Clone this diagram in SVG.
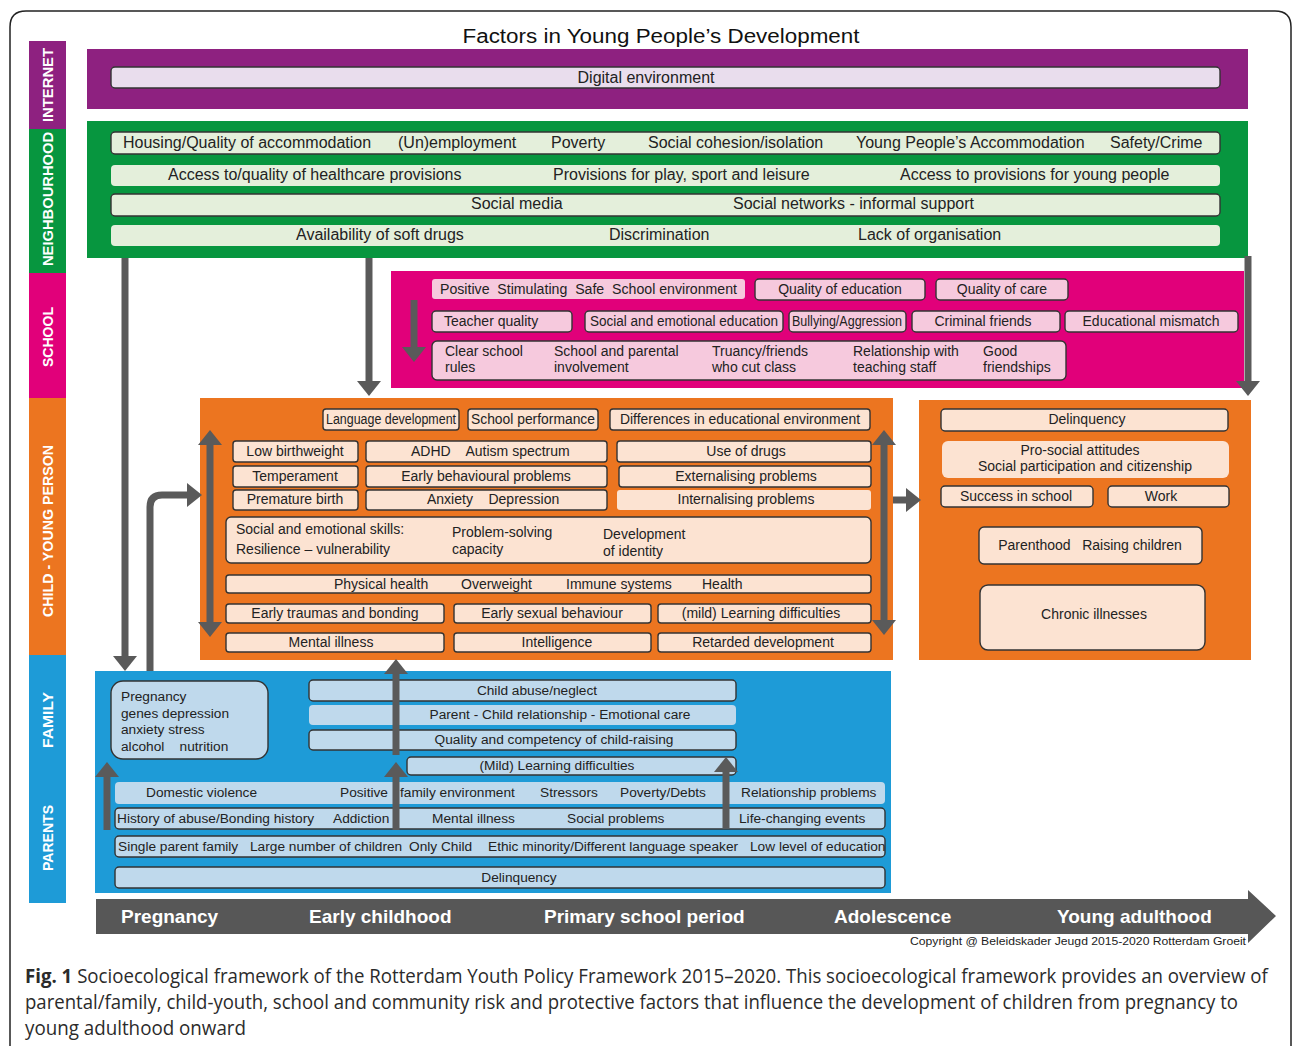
<svg xmlns="http://www.w3.org/2000/svg" width="1292" height="1046" viewBox="0 0 1292 1046">
<style>
.t{font-family:"Liberation Sans",Arial,sans-serif;font-size:14px;fill:#222}
.s{font-size:14px}
.f{font-size:13.7px}
.n{font-size:16px}
.m{text-anchor:middle}
.side{font-family:"Liberation Sans",Arial,sans-serif;font-weight:bold;font-size:14px;fill:#fff;text-anchor:middle}
.tl{font-family:"Liberation Sans",Arial,sans-serif;font-weight:bold;font-size:19px;fill:#fff}
.bd{stroke:#333;stroke-width:1.4}
.nb{fill:#E4EFDB}
.sb{fill:#F6C9DD}
.cb{fill:#FCE3D2}
.fb{fill:#BFD9EC}
.ar{stroke:#5A5A5A;stroke-width:7;fill:none}
.cap{font-family:"Open Sans","Noto Sans",sans-serif;font-size:19.5px;fill:#2b2b2b}
</style>
<defs>
<marker id="ah" markerUnits="userSpaceOnUse" markerWidth="15" markerHeight="24" viewBox="0 0 10 10" preserveAspectRatio="none" refX="0" refY="5" orient="auto-start-reverse">
<path d="M0,0 L10,5 L0,10 Z" fill="#5A5A5A"/>
</marker>
</defs>
<rect x="0" y="0" width="1292" height="1046" fill="#fff"/>
<path d="M10,1046 V27 Q10,11 26,11 H1275 Q1291,11 1291,27 V1046" fill="none" stroke="#222" stroke-width="1.5"/>

<g id="sidebar">
<rect x="29" y="41" width="37" height="88" fill="#8E2180"/>
<rect x="29" y="129" width="37" height="144" fill="#07963F"/>
<rect x="29" y="273" width="37" height="125" fill="#E1007A"/>
<rect x="29" y="398" width="37" height="257" fill="#EC7520"/>
<rect x="29" y="655" width="37" height="248" fill="#1E9BD7"/>
<text class="side" transform="translate(53,85) rotate(-90)" textLength="74" lengthAdjust="spacingAndGlyphs">INTERNET</text>
<text class="side" transform="translate(53,199) rotate(-90)" textLength="134" lengthAdjust="spacingAndGlyphs">NEIGHBOURHOOD</text>
<text class="side" transform="translate(53,337) rotate(-90)" textLength="60" lengthAdjust="spacingAndGlyphs">SCHOOL</text>
<text class="side" transform="translate(53,531) rotate(-90)" textLength="172" lengthAdjust="spacingAndGlyphs">CHILD - YOUNG PERSON</text>
<text class="side" transform="translate(53,720) rotate(-90)" textLength="56" lengthAdjust="spacingAndGlyphs">FAMILY</text>
<text class="side" transform="translate(53,838) rotate(-90)" textLength="66" lengthAdjust="spacingAndGlyphs">PARENTS</text>
</g>

<text id="title" x="661" y="43" class="t m" style="font-size:20px;fill:#111" textLength="397" lengthAdjust="spacingAndGlyphs">Factors in Young People’s Development</text>

<g id="internet">
<rect x="87" y="49" width="1161" height="60" fill="#8E2180"/>
<rect x="111" y="67" width="1109" height="21" rx="4" fill="#E9DDED" class="bd"/>
<text x="646" y="83" class="t m n">Digital environment</text>
</g>

<g id="neighbourhood">
<rect x="87" y="121" width="1161" height="137" fill="#07963F"/>
<rect x="111" y="132" width="1109" height="22" rx="4" class="nb bd"/>
<text y="148" class="t n"><tspan x="123">Housing/Quality of accommodation</tspan><tspan x="398">(Un)employment</tspan><tspan x="551">Poverty</tspan><tspan x="648">Social cohesion/isolation</tspan><tspan x="856">Young People’s Accommodation</tspan><tspan x="1110">Safety/Crime</tspan></text>
<rect x="111" y="165" width="1109" height="21" rx="4" class="nb"/>
<text y="180" class="t n"><tspan x="168">Access to/quality of healthcare provisions</tspan><tspan x="553">Provisions for play, sport and leisure</tspan><tspan x="900">Access to provisions for young people</tspan></text>
<rect x="111" y="194" width="1109" height="22" rx="4" class="nb bd"/>
<text y="209" class="t n"><tspan x="471">Social media</tspan><tspan x="733">Social networks - informal support</tspan></text>
<rect x="111" y="225" width="1109" height="21" rx="4" class="nb"/>
<text y="240" class="t n"><tspan x="296">Availability of soft drugs</tspan><tspan x="609">Discrimination</tspan><tspan x="858">Lack of organisation</tspan></text>
</g>

<g id="school">
<rect x="391" y="271" width="853" height="117" fill="#E1007A"/>
<rect x="432" y="279" width="313" height="20" rx="3" class="sb"/>
<text x="440" y="294" class="t s" xml:space="preserve" textLength="297" lengthAdjust="spacingAndGlyphs">Positive  Stimulating  Safe  School environment</text>
<rect x="755" y="279" width="170" height="21" rx="4" class="sb bd"/>
<text x="840" y="294" class="t s m">Quality of education</text>
<rect x="936" y="279" width="132" height="21" rx="4" class="sb bd"/>
<text x="1002" y="294" class="t s m">Quality of care</text>
<rect x="432" y="311" width="140" height="21" rx="4" class="sb bd"/>
<text x="444" y="326" class="t s">Teacher quality</text>
<rect x="585" y="311" width="198" height="21" rx="4" class="sb bd"/>
<text x="684" y="326" class="t s m" textLength="188" lengthAdjust="spacingAndGlyphs">Social and emotional education</text>
<rect x="789" y="311" width="117" height="21" rx="4" class="sb bd"/>
<text x="847" y="326" class="t s m" textLength="110" lengthAdjust="spacingAndGlyphs">Bullying/Aggression</text>
<rect x="912" y="311" width="148" height="21" rx="4" class="sb bd"/>
<text x="983" y="326" class="t s m">Criminal friends</text>
<rect x="1065" y="311" width="173" height="21" rx="4" class="sb bd"/>
<text x="1151" y="326" class="t s m">Educational mismatch</text>
<rect x="432" y="341" width="634" height="39" rx="5" class="sb bd"/>
<text class="t s"><tspan x="445" y="356">Clear school</tspan><tspan x="445" y="372">rules</tspan></text>
<text class="t s"><tspan x="554" y="356">School and parental</tspan><tspan x="554" y="372">involvement</tspan></text>
<text class="t s"><tspan x="712" y="356">Truancy/friends</tspan><tspan x="712" y="372">who cut class</tspan></text>
<text class="t s"><tspan x="853" y="356">Relationship with</tspan><tspan x="853" y="372">teaching staff</tspan></text>
<text class="t s"><tspan x="983" y="356">Good</tspan><tspan x="983" y="372">friendships</tspan></text>
</g>

<g id="child">
<rect x="200" y="398" width="693" height="262" fill="#EC7520"/>
<rect x="323" y="409" width="136" height="21" rx="3" class="cb bd"/>
<text x="391" y="424" class="t s m" textLength="130" lengthAdjust="spacingAndGlyphs">Language development</text>
<rect x="468" y="409" width="130" height="21" rx="3" class="cb bd"/>
<text x="533" y="424" class="t s m" textLength="124" lengthAdjust="spacingAndGlyphs">School performance</text>
<rect x="610" y="409" width="260" height="21" rx="3" class="cb bd"/>
<text x="740" y="424" class="t s m" textLength="240" lengthAdjust="spacingAndGlyphs">Differences in educational environment</text>
<rect x="233" y="441" width="125" height="21" rx="3" class="cb bd"/>
<text x="295" y="456" class="t s m">Low birthweight</text>
<rect x="366" y="441" width="241" height="21" rx="3" class="cb bd"/>
<text x="411" y="456" class="t s" xml:space="preserve">ADHD    Autism spectrum</text>
<rect x="617" y="441" width="254" height="21" rx="3" class="cb bd"/>
<text x="746" y="456" class="t s m">Use of drugs</text>
<rect x="233" y="466" width="125" height="21" rx="3" class="cb bd"/>
<text x="295" y="481" class="t s m">Temperament</text>
<rect x="366" y="466" width="241" height="21" rx="3" class="cb bd"/>
<text x="486" y="481" class="t s m">Early behavioural problems</text>
<rect x="619" y="466" width="252" height="21" rx="3" class="cb bd"/>
<text x="746" y="481" class="t s m">Externalising problems</text>
<rect x="233" y="490" width="125" height="20" rx="3" class="cb bd"/>
<text x="295" y="504" class="t s m">Premature birth</text>
<rect x="366" y="490" width="241" height="20" rx="3" class="cb bd"/>
<text x="427" y="504" class="t s" xml:space="preserve">Anxiety    Depression</text>
<rect x="617" y="490" width="254" height="20" rx="3" class="cb"/>
<text x="746" y="504" class="t s m">Internalising problems</text>
<rect x="226" y="517" width="645" height="46" rx="5" class="cb bd"/>
<text class="t s"><tspan x="236" y="534">Social and emotional skills:</tspan><tspan x="236" y="554">Resilience – vulnerability</tspan></text>
<text class="t s"><tspan x="452" y="537">Problem-solving</tspan><tspan x="452" y="554">capacity</tspan></text>
<text class="t s"><tspan x="603" y="539">Development</tspan><tspan x="603" y="556">of identity</tspan></text>
<rect x="226" y="575" width="645" height="18" rx="3" class="cb bd"/>
<text y="589" class="t s"><tspan x="334">Physical health</tspan><tspan x="461">Overweight</tspan><tspan x="566">Immune systems</tspan><tspan x="702">Health</tspan></text>
<rect x="226" y="604" width="218" height="19" rx="3" class="cb bd"/>
<text x="335" y="618" class="t s m">Early traumas and bonding</text>
<rect x="454" y="604" width="197" height="19" rx="3" class="cb bd"/>
<text x="552" y="618" class="t s m">Early sexual behaviour</text>
<rect x="658" y="604" width="213" height="19" rx="3" class="cb bd"/>
<text x="761" y="618" class="t s m">(mild) Learning difficulties</text>
<rect x="226" y="633" width="218" height="19" rx="3" class="cb bd"/>
<text x="331" y="647" class="t s m">Mental illness</text>
<rect x="454" y="633" width="197" height="19" rx="3" class="cb bd"/>
<text x="557" y="647" class="t s m">Intelligence</text>
<rect x="658" y="633" width="213" height="19" rx="3" class="cb bd"/>
<text x="763" y="647" class="t s m">Retarded development</text>
</g>

<g id="outcomes">
<rect x="919" y="400" width="332" height="260" fill="#EC7520"/>
<rect x="941" y="409" width="287" height="22" rx="4" class="cb bd"/>
<text x="1087" y="424" class="t s m">Delinquency</text>
<rect x="942" y="441" width="287" height="37" rx="6" class="cb"/>
<text class="t s m"><tspan x="1080" y="455">Pro-social attitudes</tspan><tspan x="1085" y="471">Social participation and citizenship</tspan></text>
<rect x="941" y="486" width="152" height="21" rx="4" class="cb bd"/>
<text x="1016" y="501" class="t s m">Success in school</text>
<rect x="1108" y="486" width="121" height="21" rx="4" class="cb bd"/>
<text x="1161" y="501" class="t s m">Work</text>
<rect x="979" y="527" width="223" height="37" rx="5" class="cb bd"/>
<text x="1090" y="550" class="t s m" xml:space="preserve">Parenthood   Raising children</text>
<rect x="980" y="585" width="225" height="65" rx="8" class="cb bd"/>
<text x="1094" y="619" class="t s m">Chronic illnesses</text>
</g>

<g id="family">
<rect x="95" y="671" width="796" height="222" fill="#1E9BD7"/>
<rect x="111" y="681" width="157" height="78" rx="12" class="fb bd"/>
<text class="t f"><tspan x="121" y="701">Pregnancy</tspan><tspan x="121" y="718">genes  depression</tspan><tspan x="121" y="734">anxiety  stress</tspan><tspan x="121" y="751" xml:space="preserve">alcohol    nutrition</tspan></text>
<rect x="309" y="680" width="427" height="21" rx="4" class="fb bd"/>
<text x="537" y="695" class="t f m">Child abuse/neglect</text>
<rect x="309" y="705" width="427" height="20" rx="4" class="fb"/>
<text x="560" y="719" class="t f m">Parent - Child relationship - Emotional care</text>
<rect x="309" y="730" width="427" height="20" rx="4" class="fb bd"/>
<text x="554" y="744" class="t f m">Quality and competency of child-raising</text>
<rect x="407" y="757" width="329" height="18" rx="4" class="fb bd"/>
<text x="557" y="770" class="t f m">(Mild) Learning difficulties</text>
<rect x="115" y="782" width="770" height="22" rx="4" class="fb"/>
<text y="797" class="t f"><tspan x="146">Domestic violence</tspan><tspan x="340">Positive</tspan><tspan x="400">family environment</tspan><tspan x="540">Stressors</tspan><tspan x="620">Poverty/Debts</tspan><tspan x="741">Relationship problems</tspan></text>
<rect x="115" y="808" width="770" height="21" rx="4" class="fb bd"/>
<text y="823" class="t f"><tspan x="117">History of abuse/Bonding history</tspan><tspan x="333">Addiction</tspan><tspan x="432">Mental illness</tspan><tspan x="567">Social problems</tspan><tspan x="739">Life-changing events</tspan></text>
<rect x="115" y="836" width="770" height="21" rx="4" class="fb bd"/>
<text y="851" class="t f"><tspan x="118">Single parent family</tspan><tspan x="250">Large number of children</tspan><tspan x="409">Only Child</tspan><tspan x="488">Ethic minority/Different language speaker</tspan><tspan x="750">Low level of education</tspan></text>
<rect x="115" y="867" width="770" height="21" rx="4" class="fb bd"/>
<text x="519" y="882" class="t f m">Delinquency</text>
</g>

<g id="timeline">
<polygon points="96,899 1248,899 1248,890 1276,916 1248,943 1248,934 96,934" fill="#575757"/>
<text y="923" class="tl"><tspan x="121">Pregnancy</tspan><tspan x="309">Early childhood</tspan><tspan x="544">Primary school period</tspan><tspan x="834">Adolescence</tspan><tspan x="1057">Young adulthood</tspan></text>
<text x="910" y="945" class="t" style="font-size:11px" textLength="336" lengthAdjust="spacingAndGlyphs">Copyright @ Beleidskader Jeugd 2015-2020 Rotterdam Groeit</text>
</g>

<g id="connectors">
<line x1="125" y1="258" x2="125" y2="656" class="ar" marker-end="url(#ah)"/>
<line x1="369" y1="258" x2="369" y2="381" class="ar" marker-end="url(#ah)"/>
<line x1="1248" y1="256" x2="1248" y2="381" class="ar" marker-end="url(#ah)"/>
<line x1="414" y1="300" x2="414" y2="347" class="ar" marker-end="url(#ah)"/>
<line x1="210" y1="445" x2="210" y2="622" class="ar" marker-start="url(#ah)" marker-end="url(#ah)"/>
<line x1="884" y1="445" x2="884" y2="620" class="ar" marker-start="url(#ah)" marker-end="url(#ah)"/>
<line x1="893" y1="500" x2="906" y2="500" class="ar" marker-end="url(#ah)"/>
<path d="M150,671 V507 Q150,495 162,495 H187" class="ar" marker-end="url(#ah)"/>
<line x1="107" y1="830" x2="107" y2="777" class="ar" marker-end="url(#ah)"/>
<line x1="396" y1="830" x2="396" y2="777" class="ar" marker-end="url(#ah)"/>
<line x1="396" y1="755" x2="396" y2="674" class="ar" marker-end="url(#ah)"/>
<line x1="726" y1="828" x2="726" y2="772" class="ar" marker-end="url(#ah)"/>
</g>

<g id="caption">
<text transform="translate(25,983) scale(0.85,1)" class="cap" textLength="1462" lengthAdjust="spacingAndGlyphs"><tspan style="font-weight:bold">Fig. 1</tspan> Socioecological framework of the Rotterdam Youth Policy Framework 2015–2020. This socioecological framework provides an overview of</text>
<text transform="translate(25,1009) scale(0.85,1)" class="cap" textLength="1427" lengthAdjust="spacingAndGlyphs">parental/family, child-youth, school and community risk and protective factors that influence the development of children from pregnancy to</text>
<text transform="translate(25,1035) scale(0.85,1)" class="cap" textLength="260" lengthAdjust="spacingAndGlyphs">young adulthood onward</text>
</g>
</svg>
